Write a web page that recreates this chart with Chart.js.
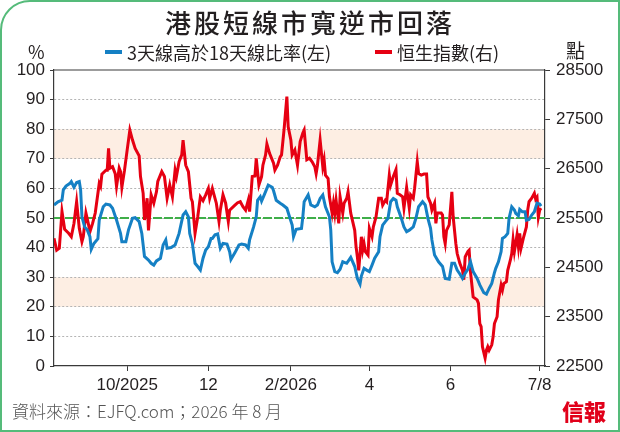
<!DOCTYPE html>
<html><head><meta charset="utf-8">
<script src="https://cdn.jsdelivr.net/npm/chart.js@4.4.1/dist/chart.umd.min.js"></script>
<style>
html,body{margin:0;padding:0;background:#fff;}
#wrap{position:relative;width:620px;height:432px;overflow:hidden;font-family:"Noto Sans CJK TC","Noto Sans",sans-serif;color:#231f20;background:#fff;}
#c{position:absolute;left:0;top:0;}
.t{position:absolute;white-space:nowrap;}
#frame{position:absolute;left:0;top:0;width:620px;height:432px;box-sizing:border-box;border:2px solid #55bb7a;border-top-left-radius:30px;pointer-events:none;}
.mk{position:absolute;height:4px;width:17px;}
</style></head>
<body>
<div id="wrap">
<canvas id="c" width="620" height="432"></canvas>
<div class="t" style="left:0;width:620px;top:3px;text-align:center;font-size:26px;line-height:38px;letter-spacing:3px;font-weight:500;">港股短線市寬逆市回落</div>
<div class="t" style="left:28px;top:39px;font-size:18px;line-height:24px;">%</div>
<div class="t" style="left:566px;top:38px;font-size:19px;line-height:24px;">點</div>
<div class="mk" style="left:105px;top:50px;background:#1580c4;"></div>
<div class="t" style="left:127px;top:40px;font-size:18px;line-height:24px;">3天線高於18天線比率(左)</div>
<div class="mk" style="left:375px;top:50px;background:#e60012;"></div>
<div class="t" style="left:397px;top:40px;font-size:18px;line-height:24px;">恒生指數(右)</div>
<div class="t" style="left:12px;top:399px;font-size:17px;line-height:24px;color:#555;font-weight:300;">資料來源：EJFQ.com；2026 年 8 月</div>
<div class="t" style="left:562px;top:397px;font-size:22px;line-height:26px;color:#e1001a;font-weight:900;">信報</div>
<div id="frame"></div>
</div>
<script>
// x values: days since 2025-08-07
const xTickDays = [55, 116, 178, 237, 298, 365];
const xTickLabels = ['10/2025', '12', '2/2026', '4', '6', '7/8'];
const bandRanges = [[20, 30], [70, 80]];
const refLevel = 50;

const breadthDays = [0,3,6,7,9,12,13,15,17,19,20,21,23,25,27,28,30,33,34,37,39,42,44,47,50,51,54,56,59,61,64,66,68,71,73,75,77,80,82,84,85,88,91,94,97,99,101,102,104,106,108,110,112,114,116,118,119,121,123,125,127,130,132,133,136,139,141,144,146,147,150,152,153,155,156,158,160,161,164,165,167,170,172,175,177,179,180,182,186,187,188,191,193,196,198,200,202,204,207,208,209,211,213,215,217,220,223,226,228,230,231,233,235,237,239,241,244,245,247,249,251,253,255,257,258,261,263,265,267,270,272,274,277,279,281,283,284,286,289,292,294,297,299,301,303,305,307,309,311,313,315,318,320,323,325,327,329,331,332,334,336,337,339,341,342,344,346,347,349,350,352,354,355,357,359,361,363,365,366];
const breadthVals = [54.4,55.5,56,59.5,60.8,61.7,62.3,60.4,62,62.3,59.5,50.4,47,46,43.7,39.4,41.4,43,49.3,53.8,54.7,54.4,53.3,49.3,44.8,42,42,46,49.9,50.1,48.8,44.8,37,35.8,34.7,34.1,35.5,36.4,40.9,42.6,39.8,40,40.9,44.8,51,52.1,50.4,44.8,41.4,34.7,33.6,32.4,36.4,39.2,40.3,43.1,43.1,44.3,44.6,39.8,41.4,41.2,38.6,36,38.3,40.9,41.2,40.9,39.8,42.6,47,50.4,56,57.2,55.7,57.8,60,61.1,60.4,59.2,56,55,54.4,53.3,50.4,47.6,43.7,46.2,46.5,50.4,55.5,57.8,54.4,53.8,54.4,56.6,57.8,53.8,50.4,45.9,35.2,31.9,31.5,32.7,35.2,34.7,36.7,33.6,29.6,27.7,30.4,33,32.4,31.9,34.1,36.4,38.6,43.7,47.6,48.8,49.9,55.5,56.6,56,53.8,49.9,47,45.4,45.9,47,49.9,53.8,55.5,54.4,49.9,46.5,42.6,37.5,35.2,33.6,29.6,29.3,34.7,34.7,32.4,31.1,29.6,31.3,32.7,35.2,31.9,29.6,27.4,24.8,24.3,26.2,27.9,31.5,33,35.2,38.6,43.1,43.7,44.8,49.9,53.8,52.7,51.6,50.8,52.9,52.1,52.1,49.3,49.5,51,52.1,55,54.7,54];

const hsiDays = [0,2,4,6,8,11,13,15,17,19,21,22,24,26,27,29,31,34,35,36,39,40,41,42,44,46,47,49,50,51,53,55,57,59,61,64,65,67,68,70,71,72,73,75,77,78,81,83,85,87,89,91,92,94,96,97,99,101,103,104,106,108,110,112,114,116,117,119,121,122,124,125,127,129,131,132,136,138,140,142,144,146,147,149,151,152,154,156,157,159,160,162,165,166,168,170,171,173,175,176,178,179,181,183,185,187,188,190,192,194,196,197,198,200,202,203,204,206,207,209,210,211,212,214,215,217,218,220,221,223,226,227,228,229,231,232,233,234,236,237,239,240,242,244,246,247,249,250,252,253,255,257,258,260,262,263,265,267,268,270,271,273,274,276,278,280,281,283,284,286,287,288,291,292,293,294,295,297,299,300,302,303,305,307,308,309,311,312,313,315,318,319,320,321,322,324,325,326,327,329,330,331,333,334,336,337,338,340,341,343,344,345,346,348,349,350,351,353,355,356,357,359,361,362,363,364,365,366];
const hsiVals = [25090,24850,24890,25630,25270,25190,25120,25390,25830,25290,25020,25120,25600,25360,25220,25390,25600,26200,26140,26390,26470,26470,26910,26510,26540,26400,26140,26510,26440,26120,26470,26880,27280,27080,26910,26760,26340,26000,25460,25900,25250,25600,25970,25800,26030,26240,26440,26340,25900,26170,25930,26470,26340,26640,26780,27080,26570,26440,25900,25830,25190,25520,25930,25850,25970,26100,25900,26100,25900,25800,25430,25660,25970,25800,25430,25660,25760,25810,25830,25730,25660,25860,25630,26340,26350,26710,26170,26340,26570,26780,27000,26810,26610,26470,26570,26740,26780,27320,27960,27350,27080,26780,26880,26570,27050,27220,27280,26680,26710,26640,26540,26400,26570,27080,26540,26680,26370,26300,25930,25600,25800,25600,25860,25390,25930,25600,25800,25900,26030,25600,25250,24920,24710,24440,25120,24850,24980,24820,24750,25290,25120,25320,25520,25900,25900,25760,25860,25830,26370,26170,26340,26480,26000,25970,25930,25700,26120,25700,25970,25900,26100,26640,26400,26370,26390,26390,25930,25800,25660,25800,25390,25600,25600,25560,25120,24980,25250,25360,26030,25520,24980,24780,24580,24440,24250,24710,24820,24850,24410,23900,23840,23770,23360,23300,22890,22660,22820,22890,22820,22930,23090,23360,23500,23840,24140,24040,24170,24210,24440,24650,24780,25060,24820,25160,24920,25190,24890,25120,25320,25660,25830,25900,26000,25880,25920,25520,25660,25700];

const xMin = 0, xMax = 369;
const darkAxis = '#3a3a3a';
const tickFont = {family: '"Liberation Sans", Arial, sans-serif', size: 17};

const pts = (xs, ys) => xs.map((x, i) => ({x: x, y: ys[i]}));

const bgPlugin = {
  id: 'bands',
  beforeDraw(chart) {
    const {ctx, chartArea: a, scales: {y}} = chart;
    ctx.save();
    ctx.fillStyle = '#fdeee3';
    bandRanges.forEach(([lo, hi]) => {
      const y1 = y.getPixelForValue(hi), y2 = y.getPixelForValue(lo);
      ctx.fillRect(a.left, y1, a.right - a.left, y2 - y1);
    });
    ctx.restore();
  },
  afterDraw(chart) {
    const {ctx, chartArea: a} = chart;
    ctx.save();
    ctx.strokeStyle = darkAxis;
    ctx.lineWidth = 1.2;
    ctx.beginPath();
    ctx.moveTo(a.left, a.top);
    ctx.lineTo(a.right, a.top);
    ctx.stroke();
    ctx.restore();
  }
};

new Chart(document.getElementById('c'), {
  type: 'line',
  data: {
    datasets: [
      {label: '3天線高於18天線比率(左)', data: pts(breadthDays, breadthVals), yAxisID: 'y', borderColor: '#1580c4', borderWidth: 3, pointRadius: 0, tension: 0, order: 1},
      {label: '恒生指數(右)', data: pts(hsiDays, hsiVals), yAxisID: 'y2', borderColor: '#e60012', borderWidth: 3, pointRadius: 0, tension: 0, order: 2},
      {label: 'ref', data: [{x: xMin, y: refLevel}, {x: xMax, y: refLevel}], yAxisID: 'y', borderColor: '#3fae49', borderWidth: 2, borderDash: [9, 2], pointRadius: 0, order: 3}
    ]
  },
  options: {
    responsive: false,
    animation: false,
    events: [],
    layout: {padding: {left: 0, right: 0, top: 70, bottom: 40}},
    plugins: {legend: {display: false}, tooltip: {enabled: false}, title: {display: false}},
    scales: {
      x: {
        type: 'linear', min: xMin, max: xMax,
        afterBuildTicks: (ax) => { ax.ticks = xTickDays.map(v => ({value: v})); },
        afterFit: (ax) => { ax.height = 26; },
        ticks: {autoSkip: false, maxRotation: 0, color: '#231f20', font: tickFont, padding: 4,
          callback: (v, i) => xTickLabels[i]},
        grid: {drawOnChartArea: false, drawTicks: true, tickLength: 5, tickColor: darkAxis},
        border: {display: true, color: darkAxis, width: 1.2}
      },
      y: {
        type: 'linear', position: 'left', min: 0, max: 100,
        afterFit: (ax) => { ax.width = 54; },
        ticks: {stepSize: 10, color: '#231f20', font: tickFont, padding: 5},
        grid: {color: (c) => (c.tick && (c.tick.value === 0 || c.tick.value === 100)) ? 'rgba(0,0,0,0)' : '#b4b4b4',
          lineWidth: 1, drawTicks: true, tickLength: 4, tickColor: darkAxis},
        border: {display: true, color: darkAxis, width: 1.2, dash: [2, 2]}
      },
      y2: {
        type: 'linear', position: 'right', min: 22500, max: 28500,
        afterFit: (ax) => { ax.width = 75; },
        ticks: {stepSize: 1000, color: '#231f20', font: tickFont, padding: 6, callback: (v) => String(v)},
        grid: {drawOnChartArea: false, drawTicks: true, tickLength: 5, tickColor: darkAxis},
        border: {display: true, color: darkAxis, width: 1.2}
      }
    }
  },
  plugins: [bgPlugin]
});
</script>
</body></html>
